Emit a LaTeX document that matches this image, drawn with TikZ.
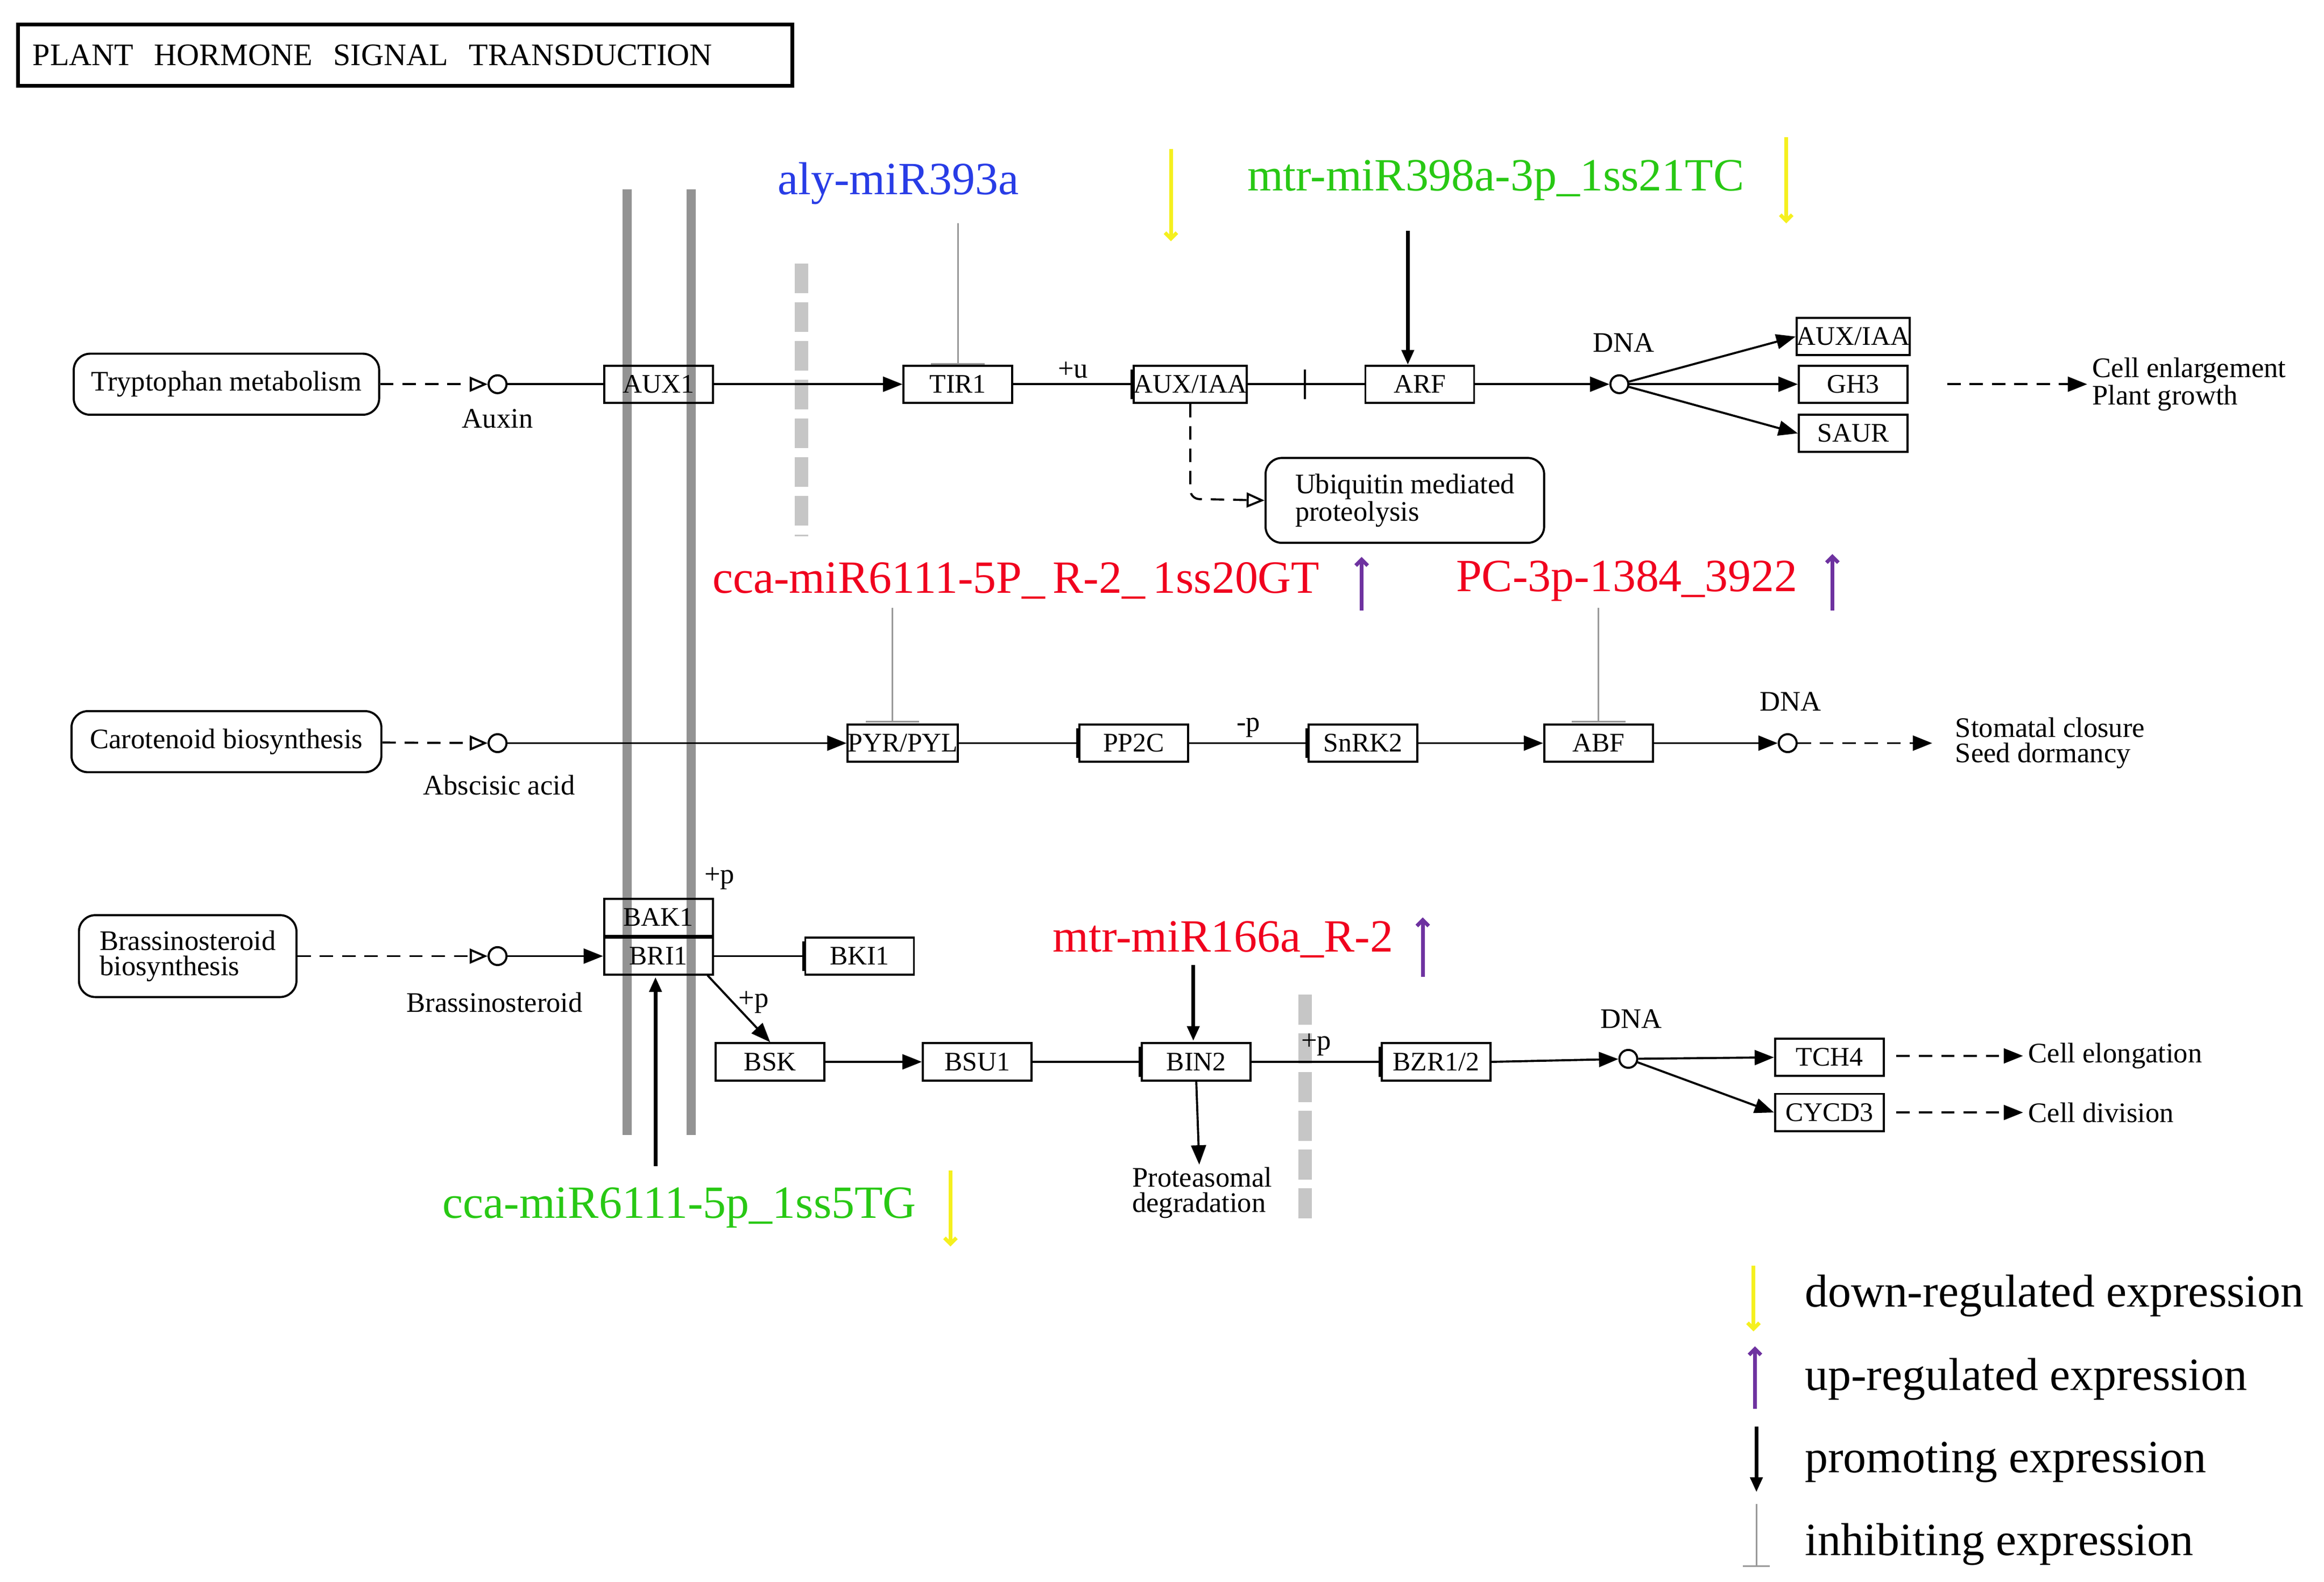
\documentclass[tikz,border=0pt]{standalone}
\usepackage{fontspec}
\setmainfont{Liberation Serif}
\usetikzlibrary{arrows.meta}
\definecolor{mgreen}{RGB}{40,200,20}
\definecolor{mblue}{RGB}{40,60,230}
\definecolor{mred}{RGB}{240,0,30}
\definecolor{mpurple}{RGB}{110,50,160}
\definecolor{myellow}{RGB}{245,240,30}
\begin{document}
\begin{tikzpicture}[x=1pt,y=-1pt,
  box/.style={draw,line width=1.4pt,minimum width=73pt,minimum height=25pt,inner sep=0pt,font=\fontsize{18}{18}\selectfont},
  rbox/.style={draw,line width=1.4pt,rounded corners=11pt,inner sep=0pt,font=\fontsize{19}{17}\selectfont,align=left},
  cmp/.style={draw,circle,line width=1.4pt,minimum size=12pt,inner sep=0pt},
  lbl/.style={font=\fontsize{19}{17}\selectfont,align=left},
  mir/.style={font=\fontsize{31}{31}\selectfont},
  leg/.style={font=\fontsize{31}{31}\selectfont,anchor=west},
  ln/.style={line width=1.4pt},
  act/.style={ln,-{Triangle[length=13pt,width=10pt]}},
  inh/.style={ln,-{Bar[width=20pt]}},
  dsh/.style={ln,dash pattern=on 9pt off 6pt},
  dact/.style={dsh,-{Triangle[length=13pt,width=10pt]}},
  dopen/.style={dsh,-{Triangle[open,length=12pt,width=10pt]}},
  mbar/.style={line width=1pt,gray!80,-{Bar[width=36pt]}},
  up/.style={line width=2.5pt,mpurple,-{Straight Barb[length=4pt]}},
  down/.style={line width=2.5pt,myellow,-{Straight Barb[length=4pt]}},
  prom/.style={line width=2.5pt,-{Triangle[length=10pt,width=8pt]}}]
\useasboundingbox (0,0) rectangle (1560,1062);
% membranes
\draw[line width=6pt,gray!85] (421,127) -- (421,762);
\draw[line width=6pt,gray!85] (464,127) -- (464,762);
\draw[line width=9pt,gray!45,dash pattern=on 20pt off 6pt] (538,177) -- (538,360);
\draw[line width=9pt,gray!45,dash pattern=on 20pt off 6pt] (876,668) -- (876,822);
% title
\node[draw,line width=2.5pt,minimum width=520pt,minimum height=41pt,text width=500pt,align=left,font=\fontsize{21}{21}\selectfont] (title) at (272,37) {PLANT\ \ HORMONE\ \ SIGNAL\ \ TRANSDUCTION};
% ---------- auxin row ----------
\node[rbox,minimum width=205pt,minimum height=41pt] (trp) at (152,258) {Tryptophan metabolism};
\node[cmp] (aux) at (334,258) {};
\node[lbl] at (334,281) {Auxin};
\node[box] (aux1) at (442,258) {AUX1};
\node[box] (tir1) at (643,258) {TIR1};
\node[box] (auxiaa) at (799,258) {AUX/IAA};
\node[box] (arf) at (953,258) {ARF};
\node[cmp] (dna1) at (1087,258) {};
\node[lbl] at (1090,230) {DNA};
\node[box] (aux2) at (1244,226) {AUX/IAA};
\node[box] (gh3) at (1244,258) {GH3};
\node[box] (saur) at (1244,291) {SAUR};
\node[lbl,anchor=west] (ce) at (1401,258) {Cell enlargement\\Plant growth};
\node[rbox,minimum width=187pt,minimum height=57pt] (ubq) at (943,336) {Ubiquitin mediated\\proteolysis};
\draw[dopen] (trp) -- (aux);
\draw[ln] (aux) -- (aux1);
\draw[act] (aux1) -- (tir1);
\draw[inh] (tir1) -- node[lbl,above]{+u} (auxiaa);
\draw[ln] (auxiaa) -- (arf);
\draw[ln] (876,248) -- (876,268);
\draw[act] (arf) -- (dna1);
\draw[act] (dna1) -- (aux2.west);
\draw[act] (dna1) -- (gh3.west);
\draw[act] (dna1) -- (saur.west);
\draw[dact] (1307,258) -- (ce.west);
\draw[dopen,rounded corners=6pt] (auxiaa.south) -- (799,335) -- (ubq.west);
% ---------- ABA row ----------
\node[rbox,minimum width=208pt,minimum height=41pt] (car) at (152,498) {Carotenoid biosynthesis};
\node[cmp] (aba) at (334,499) {};
\node[lbl] at (335,527) {Abscisic acid};
\node[box] (pyr) at (606,499) {PYR/PYL};
\node[box] (pp2c) at (761,499) {PP2C};
\node[box] (snrk) at (915,499) {SnRK2};
\node[box] (abf) at (1073,499) {ABF};
\node[cmp] (dna2) at (1200,499) {};
\node[lbl] at (1202,471) {DNA};
\node[lbl,anchor=west] (sc) at (1309,499) {Stomatal closure\\Seed dormancy};
\draw[dopen] (car) -- (aba);
\draw[act] (aba) -- (pyr);
\draw[inh] (pyr) -- (pp2c);
\draw[inh] (pp2c) -- node[lbl,above]{-p} (snrk);
\draw[act] (snrk) -- (abf);
\draw[act] (abf) -- (dna2);
\draw[dact] (dna2) -- (1297,499);
% ---------- BR row ----------
\node[rbox,minimum width=146pt,minimum height=55pt] (br) at (126,642) {Brassinosteroid\\biosynthesis};
\node[cmp] (brs) at (334,642) {};
\node[lbl] at (332,673) {Brassinosteroid};
\node[box] (bak1) at (442,616) {BAK1};
\node[box] (bri1) at (442,642) {BRI1};
\node[lbl] at (483,590) {+p};
\node[box] (bki1) at (577,642) {BKI1};
\node[box] (bsk) at (517,713) {BSK};
\node[box] (bsu1) at (656,713) {BSU1};
\node[box] (bin2) at (803,713) {BIN2};
\node[box] (bzr) at (964,713) {BZR1/2};
\node[cmp] (dna3) at (1093,711) {};
\node[lbl] at (1095,684) {DNA};
\node[box] (tch4) at (1228,710) {TCH4};
\node[box] (cycd3) at (1228,747) {CYCD3};
\node[lbl,anchor=west] (cel) at (1358,709) {Cell elongation};
\node[lbl,anchor=west] (cdiv) at (1358,747) {Cell division};
\node[lbl] (prot) at (807,801) {Proteasomal\\degradation};
\draw[dopen] (br) -- (brs);
\draw[act] (brs) -- (bri1);
\draw[inh] (bri1) -- (bki1);
\draw[act] (475,655) -- node[lbl,right,pos=0.4]{+p} (bsk.north);
\draw[act] (bsk) -- (bsu1);
\draw[inh] (bsu1) -- (bin2);
\draw[inh] (bin2) -- node[lbl,above]{+p} (bzr);
\draw[act] (bzr.east) -- (dna3);
\draw[act] (dna3) -- (tch4.west);
\draw[act] (dna3) -- (cycd3.west);
\draw[dact] (1273,709) -- (cel.west);
\draw[dact] (1273,747) -- (cdiv.west);
\draw[act] (bin2.south) -- (805,782);
% ---------- miRNAs ----------
\node[mir,text=mblue] (m1) at (603,123) {aly-miR393a};
\draw[mbar] (643,150) -- (tir1.north);
\draw[down] (786,100) -- (786,162);
\node[mir,text=mgreen] (m2) at (1004,121) {mtr-miR398a-3p\_1ss21TC};
\draw[prom] (945,155) -- (945,245);
\draw[down] (1199,92) -- (1199,150);
\node[mir,text=mred] (m3) at (682,390) {cca-miR6111-5P\_\,R-2\_\,1ss20GT};
\draw[up] (914,410) -- (914,374);
\draw[mbar] (599,408) -- (599,485);
\node[mir,text=mred] (m4) at (1092,390) {PC-3p-1384\_3922};
\draw[up] (1230,410) -- (1230,372);
\draw[mbar] (1073,408) -- (1073,485);
\node[mir,text=mred] (m5) at (821,631) {mtr-miR166a\_R-2};
\draw[up] (955,656) -- (955,616);
\draw[prom] (801,648) -- (801,699);
\node[mir,text=mgreen] (m6) at (456,811) {cca-miR6111-5p\_1ss5TG};
\draw[down] (638,786) -- (638,837);
\draw[prom] (440,783) -- (440,656);
% ---------- legend ----------
\draw[down] (1177,850) -- (1177,894);
\node[leg] at (1208,870) {down-regulated expression};
\draw[up] (1178,946) -- (1178,904);
\node[leg] at (1208,926) {up-regulated expression};
\draw[prom] (1179,958) -- (1179,1002);
\node[leg] at (1208,982) {promoting expression};
\draw[line width=1pt,gray!80,-{Bar[width=18pt]}] (1179,1010) -- (1179,1052);
\node[leg] at (1208,1037) {inhibiting expression};
\end{tikzpicture}
\end{document}
